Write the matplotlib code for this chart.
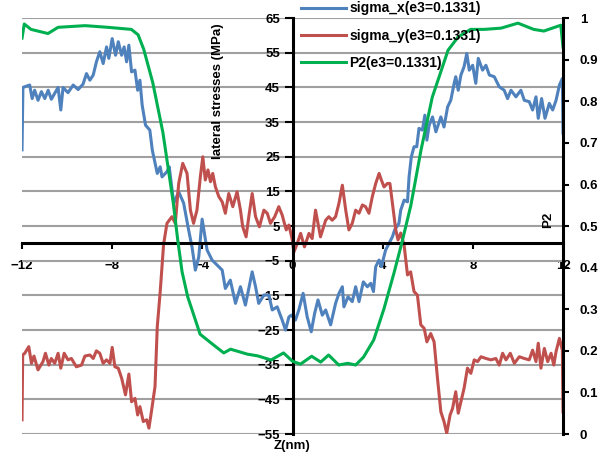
import numpy as np
import matplotlib
matplotlib.use('Agg')
import matplotlib.pyplot as plt

plt.rcParams['font.family'] = ['Liberation Sans', 'DejaVu Sans']
plt.rcParams['font.weight'] = 'bold'

# sigma_x (MPa)
z_sx = [-12.0, -11.96, -11.8, -11.66, -11.55, -11.44, -11.29, -11.14, -10.99, -10.84,
        -10.7, -10.55, -10.4, -10.28, -10.18, -9.96, -9.73, -9.51, -9.29, -9.14,
        -8.99, -8.84, -8.7, -8.55, -8.4, -8.25, -8.15, -8.0, -7.85, -7.73,
        -7.58, -7.47, -7.36, -7.26, -7.14, -6.99, -6.87, -6.77, -6.67, -6.52,
        -6.33, -6.22, -6.0, -5.87, -5.79, -5.57, -5.47, -5.27, -5.05, -4.83,
        -4.61, -4.46, -4.31, -4.16, -4.01, -3.79, -3.57, -3.35, -3.12, -2.98,
        -2.76, -2.53, -2.31, -2.09, -1.79, -1.64, -1.5, -1.27, -1.05, -0.9,
        -0.68, -0.46, -0.31, -0.16, -0.05, 0.13, 0.28, 0.47, 0.65, 0.83,
        0.98, 1.13, 1.32, 1.47, 1.69, 1.91, 2.06, 2.21, 2.28, 2.46,
        2.65, 2.8, 2.95, 3.14, 3.32, 3.47, 3.59, 3.69, 3.84, 3.94,
        4.13, 4.28, 4.43, 4.53, 4.72, 4.8, 4.95, 5.1, 5.17, 5.27,
        5.39, 5.51, 5.61, 5.76, 5.87, 5.96, 6.06, 6.21, 6.36, 6.58,
        6.72, 6.88, 7.02, 7.17, 7.24, 7.35, 7.47, 7.61, 7.73, 7.84,
        7.99, 8.13, 8.24, 8.43, 8.58, 8.73, 8.95, 9.17, 9.39, 9.54,
        9.69, 9.91, 10.13, 10.28, 10.5, 10.65, 10.8, 10.9, 11.05, 11.2,
        11.39, 11.54, 11.69, 11.84, 11.97, 12.0]
sx = [27.0, 45.0, 45.4, 45.7, 41.8, 44.2, 41.3, 43.8, 41.8, 44.2,
      41.6, 43.3, 45.0, 38.5, 45.0, 43.5, 45.7, 44.4, 46.0, 49.0,
      47.1, 48.6, 52.4, 55.3, 51.9, 56.7, 53.4, 59.1, 54.3, 58.2,
      54.3, 56.7, 52.4, 57.2, 49.5, 50.0, 44.2, 47.1, 39.9, 34.1,
      32.7, 26.9, 20.2, 22.1, 19.2, 20.7, 22.1, 11.6, 14.9, 11.6,
      3.9, -1.0, -7.7, -3.9, 7.0, -1.9, -4.8, -6.2, -7.7, -13.0,
      -10.6, -17.3, -12.5, -17.8, -8.2, -12.5, -17.3, -14.9, -14.9, -19.2,
      -18.3, -22.1, -25.0, -21.2, -20.7, -22.1, -19.2, -14.4, -21.2, -25.5,
      -20.2, -16.3, -20.7, -19.2, -23.5, -17.3, -14.4, -12.5, -18.3, -15.4,
      -16.8, -12.5, -16.8, -11.1, -12.5, -11.5, -13.9, -6.7, -4.8, -6.7,
      -1.9, 0.0, 1.9, 3.9, 5.8, 9.6, 12.5, 12.0, 19.2, 25.0,
      27.9, 27.9, 33.2, 32.7, 37.0, 29.8, 34.1, 36.5, 32.2, 36.5,
      33.6, 39.4, 41.3, 46.2, 48.1, 44.2, 48.6, 51.0, 54.8, 50.0,
      51.4, 46.2, 53.4, 50.0, 51.4, 48.6, 48.1, 45.2, 44.2, 41.8,
      44.2, 42.3, 44.2, 41.3, 40.9, 38.5, 42.3, 36.1, 41.8, 36.1,
      40.4, 38.5, 41.3, 45.7, 47.6, 31.8]

# sigma_y (MPa)
z_sy = [-12.0, -11.97, -11.88, -11.7, -11.58, -11.47, -11.29, -11.07, -10.96, -10.81,
        -10.7, -10.55, -10.4, -10.28, -10.13, -9.96, -9.81, -9.59, -9.36, -9.21,
        -8.99, -8.84, -8.7, -8.55, -8.4, -8.25, -8.1, -8.0, -7.88, -7.73,
        -7.58, -7.41, -7.26, -7.14, -6.99, -6.87, -6.77, -6.62, -6.47, -6.37,
        -6.25, -6.1, -6.0, -5.87, -5.72, -5.57, -5.35, -5.2, -5.05, -4.87,
        -4.68, -4.53, -4.39, -4.24, -4.09, -3.98, -3.87, -3.75, -3.64, -3.54,
        -3.42, -3.27, -3.12, -2.98, -2.83, -2.65, -2.46, -2.31, -2.21, -2.06,
        -1.94, -1.79, -1.64, -1.47, -1.27, -1.12, -0.98, -0.79, -0.61, -0.46,
        -0.28, -0.16, -0.01, 0.06, 0.21, 0.36, 0.53, 0.73, 0.87, 1.02,
        1.24, 1.47, 1.61, 1.76, 1.91, 2.06, 2.21, 2.36, 2.5, 2.65,
        2.8, 2.95, 3.1, 3.24, 3.39, 3.54, 3.69, 3.84, 3.94, 4.06,
        4.21, 4.32, 4.43, 4.58, 4.68, 4.8, 4.95, 5.1, 5.24, 5.39,
        5.54, 5.69, 5.84, 5.96, 6.13, 6.28, 6.43, 6.58, 6.72, 6.84,
        6.99, 7.1, 7.24, 7.35, 7.47, 7.61, 7.76, 7.91, 8.06, 8.21,
        8.36, 8.58, 8.8, 9.02, 9.17, 9.32, 9.47, 9.66, 9.84, 10.06,
        10.28, 10.5, 10.65, 10.8, 10.9, 11.02, 11.17, 11.32, 11.47, 11.59,
        11.69, 11.84, 11.97, 12.0]
sy = [-50.9, -32.2, -31.7, -29.8, -34.6, -32.5, -36.5, -34.1, -31.7, -35.1,
      -33.2, -34.6, -31.7, -36.0, -31.7, -33.6, -33.2, -35.6, -35.1, -32.5,
      -32.2, -33.2, -31.0, -31.7, -34.6, -33.6, -34.6, -30.0, -35.6, -36.0,
      -38.9, -43.7, -37.7, -45.7, -44.7, -49.5, -47.1, -51.4, -50.9, -53.3,
      -48.1, -41.3, -24.0, -13.9, -0.3, 5.8, 7.7, 5.8, 17.3, 23.1,
      20.2, 9.6, 5.8, 9.6, 19.2, 25.0, 18.3, 21.2, 17.8, 20.2,
      16.3, 13.5, 12.0, 8.7, 14.4, 10.6, 14.9, 9.6, 4.8, 1.9,
      7.7, 14.4, 7.7, 4.8, 9.6, 8.7, 5.8, 7.7, 10.6, 8.2,
      3.9, 5.3, 1.0, -2.5, 0.0, 2.9, -1.0, 2.9, 1.4, 9.6,
      1.9, 6.7, 7.7, 6.7, 7.7, 11.6, 16.8, 9.6, 3.9, 5.8,
      9.6, 8.7, 11.1, 10.6, 8.7, 13.5, 17.3, 20.2, 18.3, 16.3,
      17.3, 17.3, 11.6, 3.9, 1.0, 3.0, -0.5, -9.1, -8.2, -13.9,
      -14.9, -23.5, -24.5, -28.4, -26.0, -28.4, -38.9, -48.6, -51.4, -54.8,
      -49.5, -47.6, -42.8, -49.0, -45.7, -41.8, -36.0, -37.5, -33.6, -34.1,
      -32.7, -33.2, -33.6, -33.2, -35.1, -31.7, -33.6, -31.7, -34.6, -32.7,
      -33.2, -33.6, -30.8, -34.1, -28.8, -36.0, -30.3, -34.1, -31.7, -35.1,
      -31.2, -27.4, -30.8, -48.6]

# P2 (right axis)
z_p2 = [-12.0, -11.9, -11.6, -10.85, -10.4, -9.2, -8.2, -7.15, -6.85, -6.6,
        -6.2, -5.75, -5.3, -5.1, -4.9, -4.65, -4.1, -3.5, -3.05, -2.75,
        -2.0, -1.55, -0.95, -0.4, 0.0, 0.35, 0.85, 1.25, 1.6, 2.05,
        2.45, 2.8, 3.15, 3.6, 4.05, 4.5, 4.85, 5.25, 5.7, 6.2,
        6.9, 7.35, 7.9, 8.5, 9.25, 10.0, 10.7, 11.15, 11.9, 12.0]
p2 = [0.952, 0.986, 0.973, 0.963, 0.978, 0.982, 0.978, 0.973, 0.96, 0.925,
      0.845, 0.725, 0.56, 0.47, 0.39, 0.33, 0.24, 0.214, 0.195, 0.204,
      0.192, 0.188, 0.178, 0.195, 0.175, 0.168, 0.187, 0.173, 0.19, 0.166,
      0.17, 0.166, 0.185, 0.226, 0.30, 0.387, 0.46, 0.55, 0.683, 0.81,
      0.923, 0.955, 0.973, 0.973, 0.976, 0.988, 0.973, 0.969, 0.983, 0.93]

x_ticks = [-12, -8, -4, 0, 4, 8, 12]
y_ticks = np.arange(-55, 66, 10)
p2_ticks = np.arange(0, 1.01, 0.1)

fig = plt.figure(figsize=(6, 4.54), dpi=100)
ax = fig.add_axes([0.0367, 0.044, 0.9017, 0.916])

ax.plot(z_sx, sx, color='#4F81BD', lw=2.2, label='sigma_x(e3=0.1331)', solid_joinstyle='round')
ax.plot(z_sy, sy, color='#C0504D', lw=2.2, label='sigma_y(e3=0.1331)', solid_joinstyle='round')

ax.set_xlim(-12, 12)
ax.set_ylim(-55, 65)
ax.set_xticks(x_ticks)
ax.set_yticks(y_ticks)
ax.yaxis.grid(True, color='#a0a0a0', lw=1.5)
ax.set_axisbelow(True)

ax.spines['left'].set_position(('data', 0))
ax.spines['bottom'].set_position(('data', 0))
ax.spines['top'].set_visible(False)
ax.spines['right'].set_visible(False)
for s in ('left', 'bottom'):
    ax.spines[s].set_linewidth(2.2)
    ax.spines[s].set_zorder(5)

ax.tick_params(axis='y', direction='out', length=6, width=1.5, pad=3, labelsize=9.5)
ax.tick_params(axis='x', direction='out', length=4, width=1.5, pad=8, labelsize=9.5)
for lab in ax.get_yticklabels() + ax.get_xticklabels():
    lab.set_fontweight('bold')

ax2 = ax.twinx()
ax2.plot(z_p2, p2, color='#00B050', lw=2.2, label='P2(e3=0.1331)')
ax2.set_ylim(0, 1)
ax2.set_yticks(p2_ticks)
ax2.set_yticklabels(['0'] + ['%.1f' % v for v in p2_ticks[1:-1]] + ['1'])
for s in ('left', 'top', 'bottom'):
    ax2.spines[s].set_visible(False)
ax2.spines['right'].set_linewidth(2.2)
ax2.tick_params(axis='y', direction='out', length=4, width=1.5, pad=8, labelsize=9.5)
for lab in ax2.get_yticklabels():
    lab.set_fontweight('bold')

fig.text(0.363, 0.80, 'lateral stresses (MPa)', rotation=90, ha='center', va='center',
         fontsize=9.5, fontweight='bold')
fig.text(0.913, 0.515, 'P2', rotation=90, ha='center', va='center', fontsize=9.5, fontweight='bold')
fig.text(0.487, 0.018, 'Z(nm)', ha='center', va='center', fontsize=9.5, fontweight='bold')

h1, l1 = ax.get_legend_handles_labels()
h2, l2 = ax2.get_legend_handles_labels()
fig.legend(h1 + h2, l1 + l2, loc='upper left', bbox_to_anchor=(0.5, 1.0),
           frameon=False, handlelength=3.2, handletextpad=0.25,
           labelspacing=0.95, borderpad=0.1, borderaxespad=0,
           prop={'weight': 'bold', 'size': 10})

fig.savefig('out.png', dpi=100)
